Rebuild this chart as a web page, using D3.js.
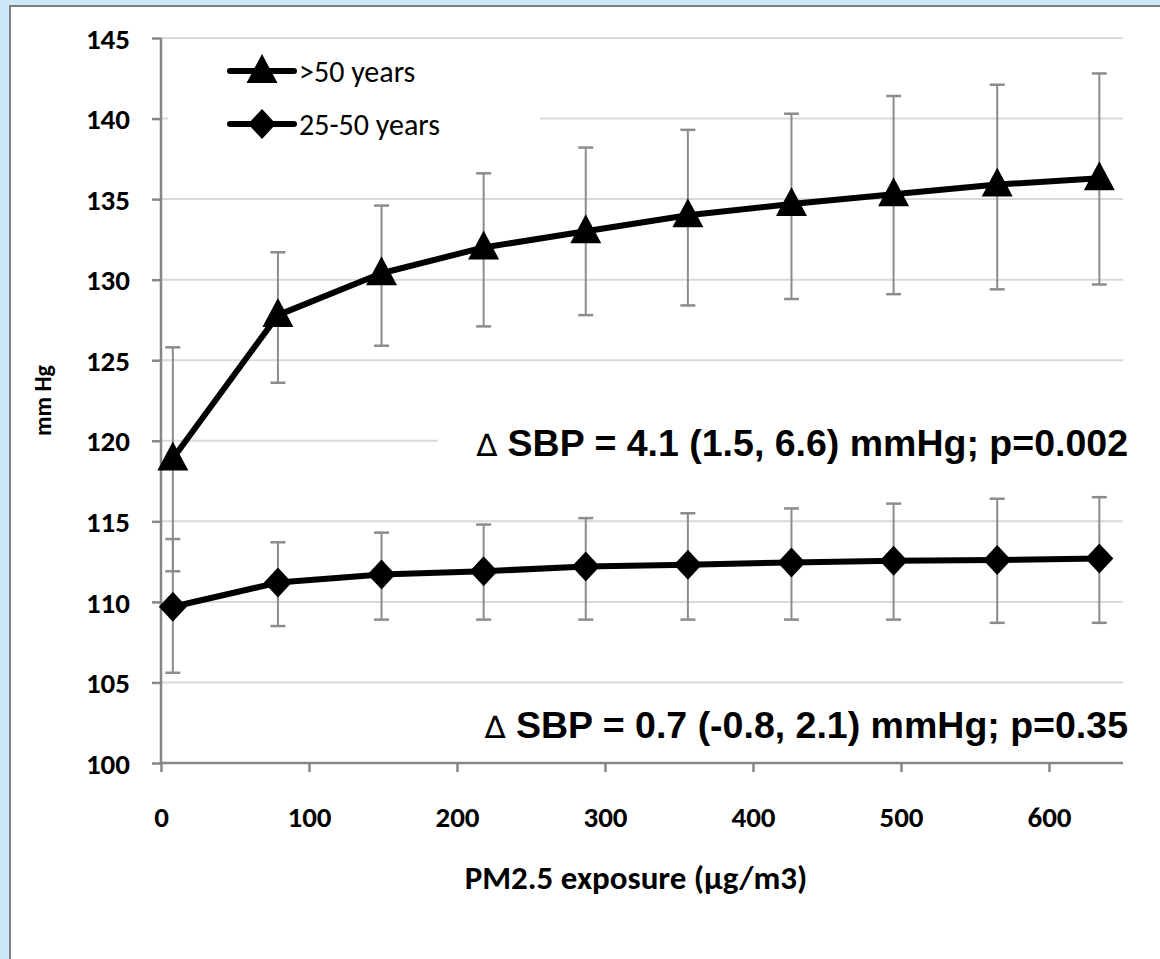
<!DOCTYPE html>
<html>
<head>
<meta charset="utf-8">
<script src="https://cdn.jsdelivr.net/npm/d3@7"></script>
<style>
  html, body { margin: 0; padding: 0; background: #cde8f9; }
  #chart { width: 1160px; height: 959px; }
</style>
</head>
<body>
<div id="chart"></div>
<script>
// PM2.5 exposure points (µg/m3)
const exposure = [8, 79, 149, 218, 287, 356, 426, 495, 565, 634];

// >50 years: mean SBP and error bar limits
const olderMean  = [118.9, 127.8, 130.4, 132.0, 133.0, 134.0, 134.7, 135.3, 135.9, 136.3];
const olderLow   = [111.9, 123.6, 125.9, 127.1, 127.8, 128.4, 128.8, 129.1, 129.4, 129.7];
const olderHigh  = [125.8, 131.7, 134.6, 136.6, 138.2, 139.3, 140.3, 141.4, 142.1, 142.8];

// 25-50 years
const youngMean  = [109.7, 111.2, 111.7, 111.9, 112.2, 112.3, 112.45, 112.55, 112.6, 112.7];
const youngLow   = [105.6, 108.5, 108.9, 108.9, 108.9, 108.9, 108.9, 108.9, 108.7, 108.7];
const youngHigh  = [113.9, 113.7, 114.3, 114.8, 115.2, 115.5, 115.8, 116.1, 116.4, 116.5];

const xTicks = [0, 100, 200, 300, 400, 500, 600];
const yTicks = [100, 105, 110, 115, 120, 125, 130, 135, 140, 145];

const legendLabels = ['>50 years', '25-50 years'];
const notes = [
  ' SBP = 4.1 (1.5, 6.6) mmHg; p=0.002',
  ' SBP = 0.7 (-0.8, 2.1) mmHg; p=0.35'
];

const W = 1160, H = 959;
const plot = { left: 161, right: 1123, top: 38, bottom: 763 };

const x = d3.scaleLinear().domain([0, 650]).range([plot.left, plot.right]);
const y = d3.scaleLinear().domain([100, 145]).range([plot.bottom, plot.top]);

const tickFont = 'Carlito, Lato, "Open Sans", sans-serif';
const axisGray = '#868686';
const gridGray = '#d9d9d9';
const barGray = '#8c8c8c';

const svg = d3.select('#chart').append('svg')
  .attr('width', W)
  .attr('height', H);

// white panel with gray frame
svg.append('rect')
  .attr('x', 10).attr('y', 6)
  .attr('width', W + 10).attr('height', H + 10)
  .attr('fill', '#ffffff')
  .attr('stroke', '#7f7f7f')
  .attr('stroke-width', 2);

// gridlines
svg.append('g')
  .selectAll('line')
  .data(yTicks.filter(d => d > 100))
  .join('line')
  .attr('x1', plot.left).attr('x2', plot.right)
  .attr('y1', d => y(d)).attr('y2', d => y(d))
  .attr('stroke', gridGray)
  .attr('stroke-width', 2);

// white boxes behind legend and first note (they hide the gridlines)
svg.append('rect')
  .attr('x', 168).attr('y', 46).attr('width', 372).attr('height', 104)
  .attr('fill', '#ffffff');
svg.append('rect')
  .attr('x', 438).attr('y', 418).attr('width', 700).attr('height', 52)
  .attr('fill', '#ffffff');

// axes
const yAxis = d3.axisLeft(y).tickValues(yTicks).tickSize(9).tickPadding(22);
const xAxis = d3.axisBottom(x).tickValues(xTicks).tickSize(9).tickPadding(34);

const gy = svg.append('g')
  .attr('transform', `translate(${plot.left},0)`)
  .call(yAxis);
const gx = svg.append('g')
  .attr('transform', `translate(0,${plot.bottom})`)
  .call(xAxis);

[gx, gy].forEach(g => {
  g.attr('font-size', null).attr('font-family', null);
  g.select('.domain').attr('stroke', axisGray).attr('stroke-width', 2.5);
  g.selectAll('.tick line').attr('stroke', axisGray).attr('stroke-width', 2.5);
  g.selectAll('.tick text')
    .attr('fill', '#000')
    .attr('font-family', tickFont)
    .attr('font-weight', 'bold')
    .attr('font-size', 29);
});
// x domain line reaches the plot end
gx.select('.domain').attr('d', `M${plot.left},0H${plot.right}`);
gy.select('.domain').attr('d', `M0,${plot.bottom}V${plot.top}`);
gy.selectAll('.tick text').attr('dy', '0.35em');

// axis titles
svg.append('text')
  .attr('x', (plot.left + plot.right) / 2 - 6)
  .attr('y', 889)
  .attr('text-anchor', 'middle')
  .attr('font-family', tickFont)
  .attr('font-weight', 'bold')
  .attr('font-size', 33)
  .text('PM2.5 exposure (\u00b5g/m3)');

svg.append('text')
  .attr('transform', `translate(51,${(plot.top + plot.bottom) / 2}) rotate(-90)`)
  .attr('text-anchor', 'middle')
  .attr('font-family', tickFont)
  .attr('font-weight', 'bold')
  .attr('font-size', 24)
  .text('mm Hg');

// series
const series = [
  { name: legendLabels[0], mean: olderMean, low: olderLow, high: olderHigh, marker: 'triangle' },
  { name: legendLabels[1], mean: youngMean, low: youngLow, high: youngHigh, marker: 'diamond' }
];

const markerPath = {
  triangle: 'M0,-17L15.5,12L-15.5,12Z',
  diamond: 'M0,-15L14,0L0,15L-14,0Z'
};

const line = d3.line()
  .x(d => x(d[0]))
  .y(d => y(d[1]));

series.forEach(s => {
  const pts = exposure.map((e, i) => ({ e, m: s.mean[i], lo: s.low[i], hi: s.high[i] }));
  const g = svg.append('g');

  // error bars
  const eb = g.append('g').selectAll('g').data(pts).join('g');
  eb.append('line')
    .attr('x1', d => x(d.e)).attr('x2', d => x(d.e))
    .attr('y1', d => y(d.lo)).attr('y2', d => y(d.hi))
    .attr('stroke', barGray).attr('stroke-width', 2);
  eb.append('line')
    .attr('x1', d => x(d.e) - 7.5).attr('x2', d => x(d.e) + 7.5)
    .attr('y1', d => y(d.hi)).attr('y2', d => y(d.hi))
    .attr('stroke', barGray).attr('stroke-width', 2.5);
  eb.append('line')
    .attr('x1', d => x(d.e) - 7.5).attr('x2', d => x(d.e) + 7.5)
    .attr('y1', d => y(d.lo)).attr('y2', d => y(d.lo))
    .attr('stroke', barGray).attr('stroke-width', 2.5);

  g.append('path')
    .datum(exposure.map((e, i) => [e, s.mean[i]]))
    .attr('d', line)
    .attr('fill', 'none')
    .attr('stroke', '#000')
    .attr('stroke-width', 6)
    .attr('stroke-linejoin', 'round');

  g.append('g').selectAll('path').data(pts).join('path')
    .attr('transform', d => `translate(${x(d.e)},${y(d.m)})`)
    .attr('d', markerPath[s.marker])
    .attr('fill', '#000');
});

// legend
const legend = svg.append('g');
series.forEach((s, i) => {
  const ly = 71 + i * 53;
  const row = legend.append('g').attr('transform', `translate(0,${ly})`);
  row.append('line')
    .attr('x1', 230).attr('x2', 294)
    .attr('stroke', '#000').attr('stroke-width', 6).attr('stroke-linecap', 'round');
  row.append('path')
    .attr('transform', 'translate(262,0)')
    .attr('d', markerPath[s.marker])
    .attr('fill', '#000');
  row.append('text')
    .attr('x', 299).attr('y', 0).attr('dy', '0.35em')
    .attr('font-family', tickFont)
    .attr('font-size', 30)
    .text(s.name);
});

// annotations
const noteY = [443, 725];
notes.forEach((t, i) => {
  const txt = svg.append('text')
    .attr('x', 1128).attr('y', noteY[i]).attr('dy', '0.35em')
    .attr('text-anchor', 'end')
    .attr('font-family', '"Liberation Sans", Arial, sans-serif')
    .attr('font-weight', 'bold')
    .attr('font-size', 37.5);
  txt.append('tspan')
    .attr('font-family', '"DejaVu Sans", sans-serif')
    .attr('font-weight', 'normal')
    .attr('font-size', 31)
    .text('\u2206');
  txt.append('tspan').text(t);
});
</script>
</body>
</html>
